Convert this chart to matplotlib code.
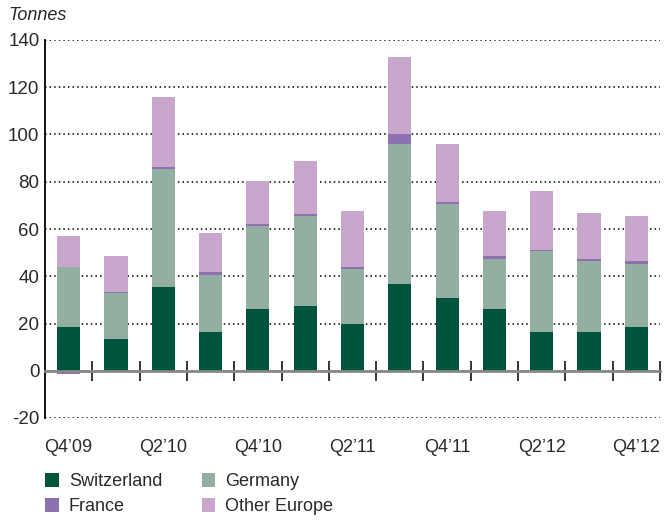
import matplotlib
matplotlib.use("Agg")
import matplotlib.pyplot as plt
import numpy as np

plt.rcParams['font.family'] = ['Liberation Sans', 'DejaVu Sans']
plt.rcParams['axes.unicode_minus'] = False

quarters = ["Q4'09", "Q1'10", "Q2'10", "Q3'10", "Q4'10", "Q1'11", "Q2'11",
            "Q3'11", "Q4'11", "Q1'12", "Q2'12", "Q3'12", "Q4'12"]
tick_labels = ["Q4\u201909", "Q2\u201910", "Q4\u201910", "Q2\u201911", "Q4\u201911", "Q2\u201912", "Q4\u201912"]
switzerland = [18.7, 13.6, 35.6, 16.5, 26.3, 27.2, 19.9, 36.9, 30.6, 26.3, 16.5, 16.5, 18.7]
germany = [25.4, 19.1, 49.7, 24.2, 34.8, 38.1, 23.0, 59.0, 39.8, 20.8, 34.0, 29.8, 26.3]
france = [-1.2, 0.8, 1.0, 1.3, 0.9, 0.9, 1.2, 4.2, 0.9, 1.3, 0.8, 1.2, 1.3]
other_europe = [12.8, 14.9, 29.5, 16.1, 18.3, 22.5, 23.4, 32.7, 24.6, 19.1, 24.7, 19.1, 19.0]

series = [("Switzerland", switzerland, "#00533C"),
          ("Germany", germany, "#93AFA2"),
          ("France", france, "#8C72B0"),
          ("Other Europe", other_europe, "#C9A7CD")]

TXT = '#2a2a2a'

fig = plt.figure(figsize=(6.7, 5.22), dpi=100)
ax = fig.add_axes([45/670, 1 - 418/522, (660-45)/670, (418-40)/522])

x = np.arange(len(quarters))
pos_base = np.zeros(len(x))
neg_base = np.zeros(len(x))
handles = {}
for name, vals, col in series:
    v = np.array(vals, dtype=float)
    bottoms = np.where(v >= 0, pos_base, neg_base)
    b = ax.bar(x, v, bottom=bottoms, width=0.49, color=col, zorder=3, label=name)
    handles[name] = b
    pos_base = pos_base + np.where(v >= 0, v, 0)
    neg_base = neg_base + np.where(v < 0, v, 0)

ax.set_xlim(-0.5, len(x) - 0.5)
ax.set_ylim(-20, 140)
ax.set_yticks(np.arange(-20, 141, 20))
ax.tick_params(axis='y', length=0, labelsize=13.5, colors=TXT, pad=4)

ax.yaxis.grid(True, linestyle=(0, (1, 2)), color='black', linewidth=1.1, zorder=1)
ax.set_axisbelow(True)

for s in ['top', 'right']:
    ax.spines[s].set_visible(False)
ax.spines['left'].set_color('black')
ax.spines['left'].set_linewidth(1.3)
ax.spines['bottom'].set_position(('data', 0))
ax.spines['bottom'].set_color('#888888')
ax.spines['bottom'].set_linewidth(2)
ax.spines['bottom'].set_zorder(4)

ax.set_xticks(np.arange(0.5, len(x), 1.0))
ax.set_xticklabels([])
ax.tick_params(axis='x', direction='inout', length=14, width=1.1, color='black')

label_pos = x[::2]
for xp, lab in zip(label_pos, tick_labels):
    ax.text(xp, -0.055, lab, transform=ax.get_xaxis_transform(), ha='center', va='top',
            fontsize=13, color=TXT)

fig.text(8/670, 1 - 15/522, "Tonnes", fontsize=13, style='italic', color=TXT,
         ha='left', va='center')

order = ["Switzerland", "France", "Germany", "Other Europe"]
leg = fig.legend([handles[n] for n in order], order, ncol=2, loc='upper left',
                 bbox_to_anchor=(29/670, 1 - 457/522), frameon=False, fontsize=13,
                 handlelength=0.75, handleheight=0.75, handletextpad=0.55,
                 columnspacing=2.2, labelspacing=0.45, labelcolor=TXT)

fig.savefig("out.png", dpi=100)
